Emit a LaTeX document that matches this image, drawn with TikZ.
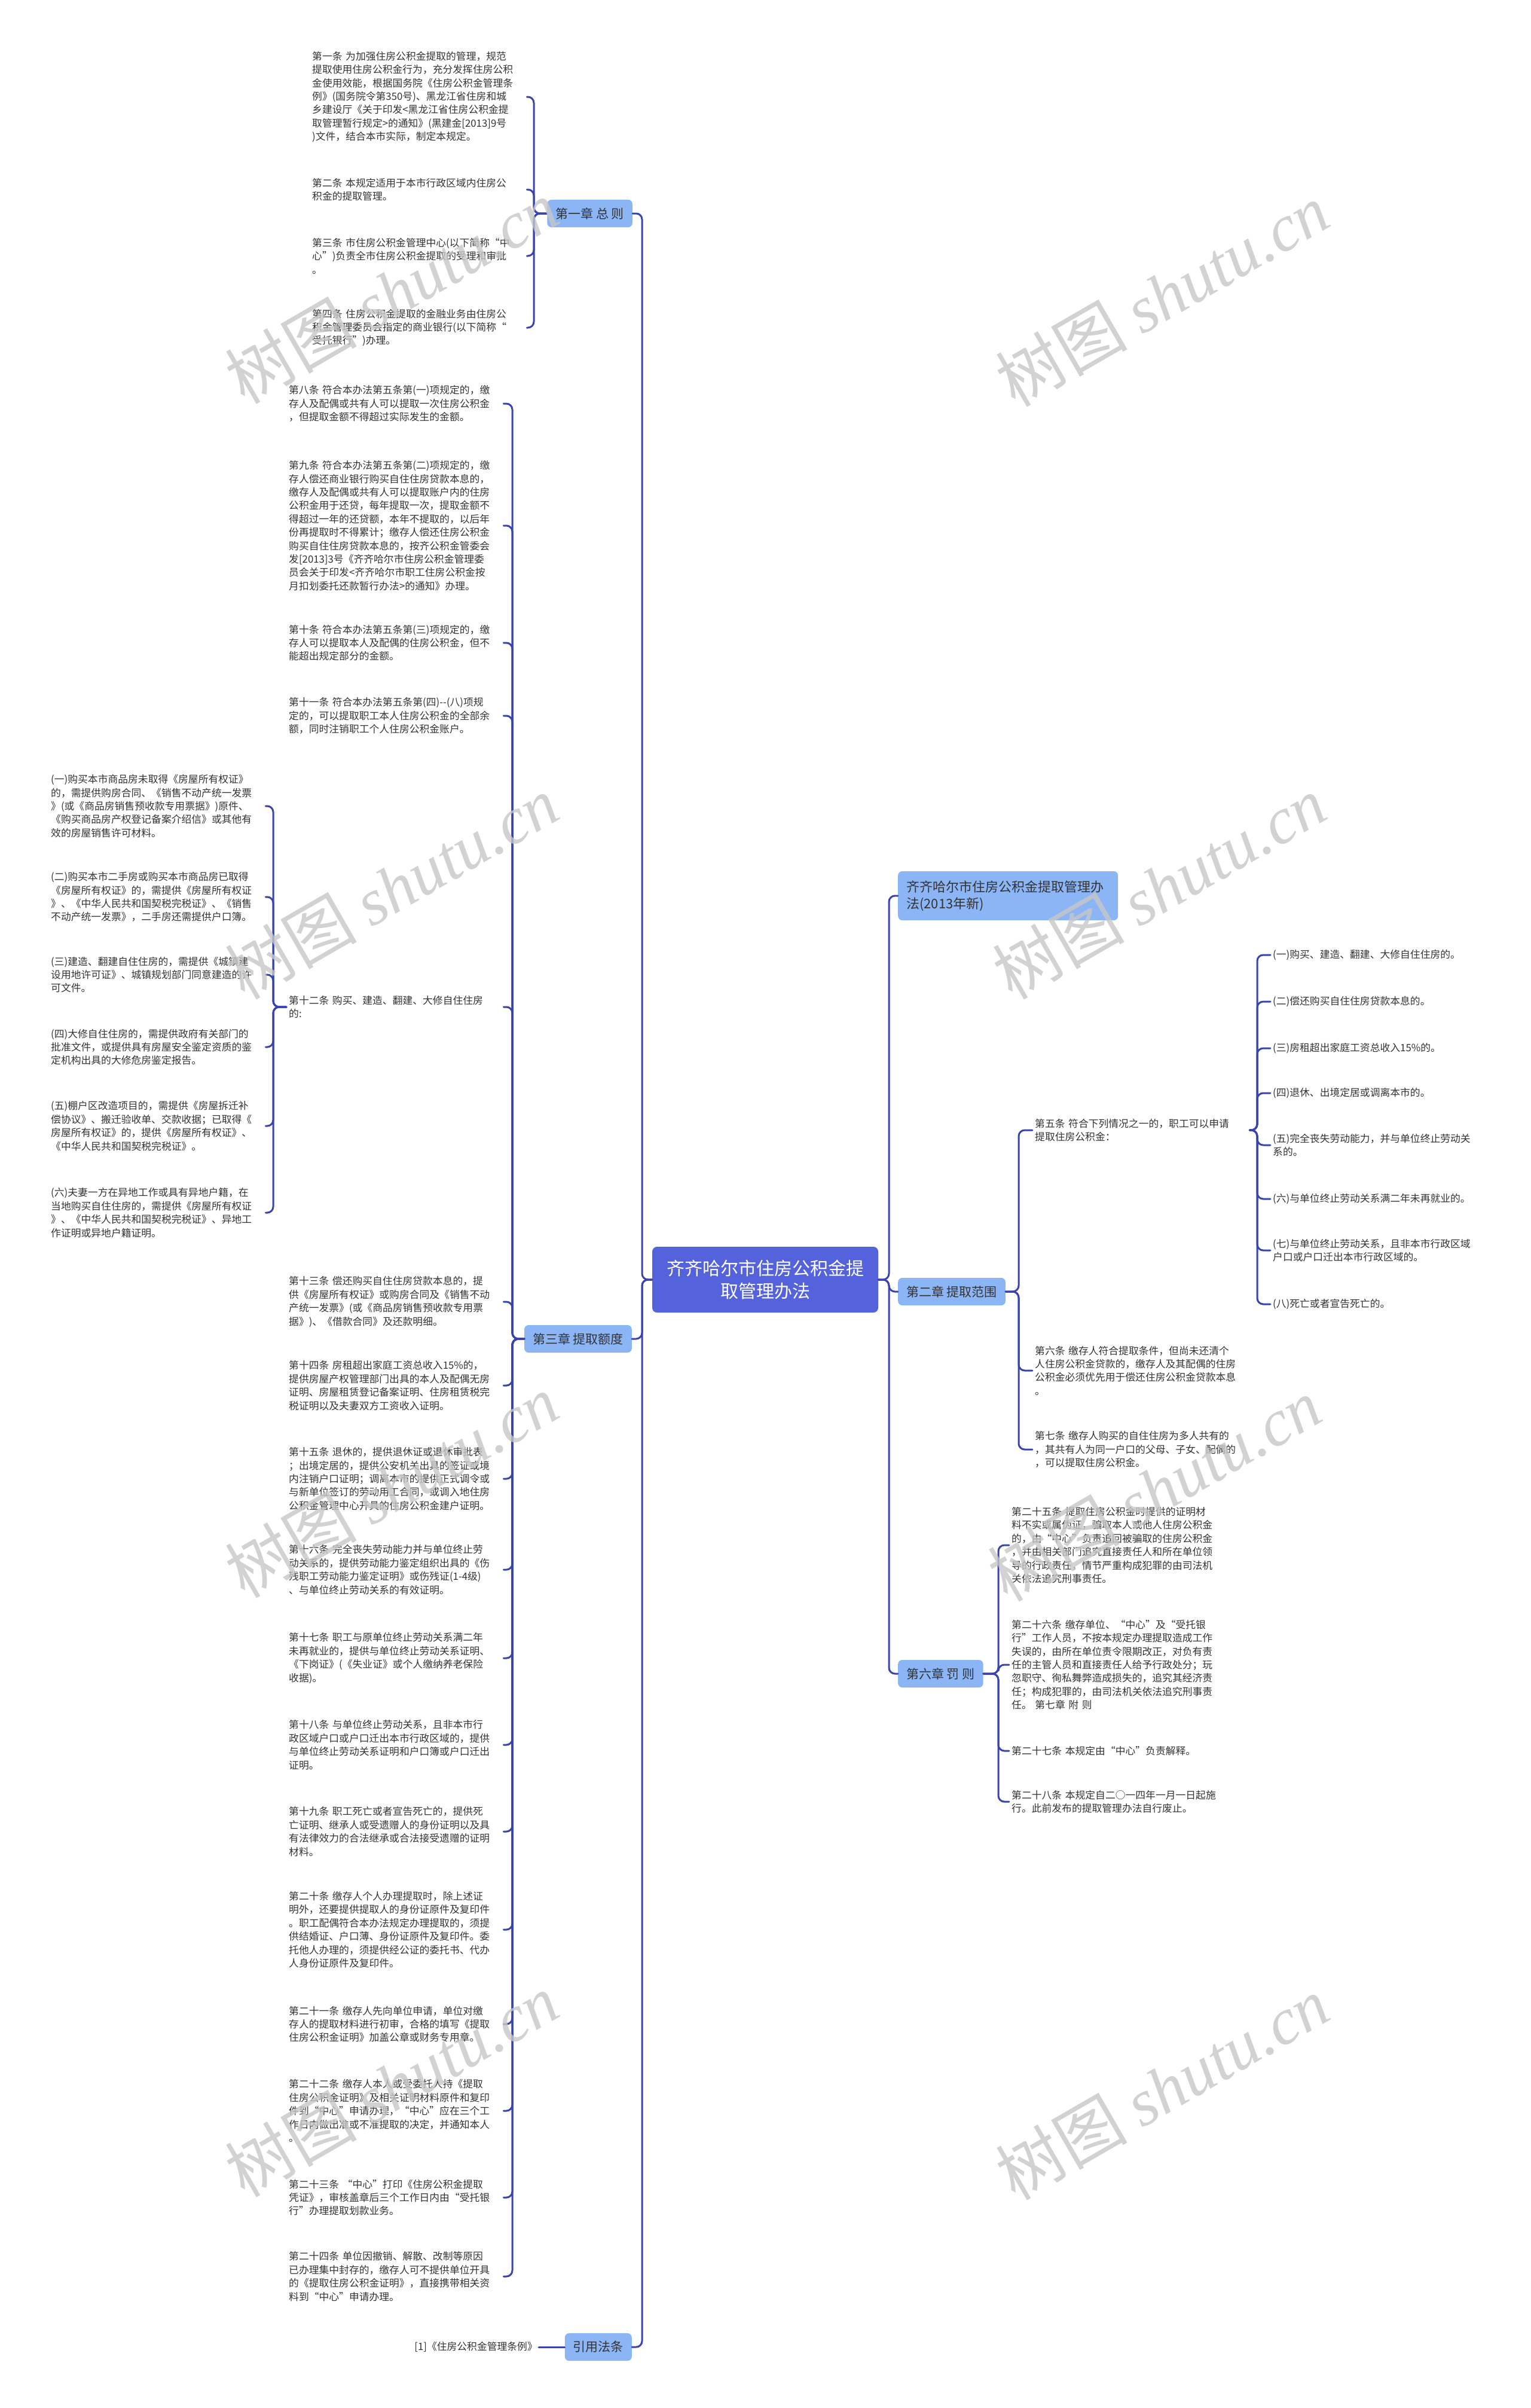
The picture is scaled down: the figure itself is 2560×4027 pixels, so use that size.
\documentclass[tikz,border=0pt]{standalone}
\usepackage{fontspec}
\setmainfont{Noto Sans CJK SC}
\newfontfamily\wmserif{Liberation Serif}

\definecolor{rootblue}{RGB}{84,99,219}
\definecolor{chapblue}{RGB}{140,181,246}
\definecolor{linkblue}{RGB}{58,68,176}
\definecolor{leafgray}{RGB}{51,51,51}

\begin{document}
\begin{tikzpicture}[x=1pt, y=-1pt, line cap=round, line join=round,
  leaf/.style={text=leafgray, font=\fontsize{16.8}{22.4}\selectfont, align=left,
    text width=355pt, inner xsep=4pt, inner ysep=2pt},
  chap/.style={fill=chapblue, text=leafgray, rounded corners=7pt,
    font=\fontsize{21}{25}\selectfont, inner xsep=14pt, minimum height=46pt},
  link/.style={draw=linkblue, line width=3pt, rounded corners=10pt},
  wm/.style={rotate=30, text=black!22, opacity=0.8, font=\fontsize{110}{110}\selectfont}]

% ----------------------------
% CANVAS
% ----------------------------
\fill[white] (0,0) rectangle (2560,4027);
\useasboundingbox (0,0) rectangle (2560,4027);

% ----------------------------
% ROOT AND CHAPTERS
% ----------------------------
\node[fill=rootblue, text=white, rounded corners=8pt, font=\fontsize{30}{38}\selectfont,
  align=center, minimum width=378pt, minimum height=110pt] (root) at (1280,2140)
  {齐齐哈尔市住房公积金提\\取管理办法};

\node[chap, anchor=east] (ch1) at (1058,357) {第一章 总 则};
\node[chap, anchor=east] (ch3) at (1057,2239) {第三章 提取额度};
\node[chap, anchor=east] (ref) at (1057,3925) {引用法条};

\node[chap, anchor=west, align=left, text width=340pt, minimum height=82pt,
  font=\fontsize{22}{28}\selectfont] (law) at (1502,1498)
  {齐齐哈尔市住房公积金提取管理办\\法(2013年新)};
\node[chap, anchor=west] (ch2) at (1502,2160) {第二章 提取范围};
\node[chap, anchor=west] (ch6) at (1502,2799) {第六章 罚 则};

% ----------------------------
% CHAPTER 1
% ----------------------------
\node[leaf, anchor=west] (a1) at (518,162) {第一条~为加强住房公积金提取的管理，规范\\提取使用住房公积金行为，充分发挥住房公积\\金使用效能，根据国务院《住房公积金管理条\\例》(国务院令第350号)、黑龙江省住房和城\\乡建设厅《关于印发<黑龙江省住房公积金提\\取管理暂行规定>的通知》(黑建金[2013]9号\\)文件，结合本市实际，制定本规定。};
\node[leaf, anchor=west] (a2) at (518,317) {第二条~本规定适用于本市行政区域内住房公\\积金的提取管理。};
\node[leaf, anchor=west] (a3) at (518,428) {第三条~市住房公积金管理中心(以下简称“中\\心”)负责全市住房公积金提取的受理和审批\\。};
\node[leaf, anchor=west] (a4) at (518,548) {第四条~住房公积金提取的金融业务由住房公\\积金管理委员会指定的商业银行(以下简称“\\受托银行”)办理。};

% ----------------------------
% CHAPTER 3
% ----------------------------
\node[leaf, anchor=west] (b8) at (479,675) {第八条~符合本办法第五条第(一)项规定的，缴\\存人及配偶或共有人可以提取一次住房公积金\\，但提取金额不得超过实际发生的金额。};
\node[leaf, anchor=west] (b9) at (479,879) {第九条~符合本办法第五条第(二)项规定的，缴\\存人偿还商业银行购买自住住房贷款本息的，\\缴存人及配偶或共有人可以提取账户内的住房\\公积金用于还贷，每年提取一次，提取金额不\\得超过一年的还贷额，本年不提取的，以后年\\份再提取时不得累计；缴存人偿还住房公积金\\购买自住住房贷款本息的，按齐公积金管委会\\发[2013]3号《齐齐哈尔市住房公积金管理委\\员会关于印发<齐齐哈尔市职工住房公积金按\\月扣划委托还款暂行办法>的通知》办理。};
\node[leaf, anchor=west] (b10) at (479,1075) {第十条~符合本办法第五条第(三)项规定的，缴\\存人可以提取本人及配偶的住房公积金，但不\\能超出规定部分的金额。};
\node[leaf, anchor=west] (b11) at (479,1197) {第十一条~符合本办法第五条第(四){-}{-}(八)项规\\定的，可以提取职工本人住房公积金的全部余\\额，同时注销职工个人住房公积金账户。};
\node[leaf, anchor=west] (b12) at (479,1684) {第十二条~购买、建造、翻建、大修自住住房\\的:};
\node[leaf, anchor=west] (b13) at (479,2177) {第十三条~偿还购买自住住房贷款本息的，提\\供《房屋所有权证》或购房合同及《销售不动\\产统一发票》(或《商品房销售预收款专用票\\据》)、《借款合同》及还款明细。};
\node[leaf, anchor=west] (b14) at (479,2317) {第十四条~房租超出家庭工资总收入15\%的，\\提供房屋产权管理部门出具的本人及配偶无房\\证明、房屋租赁登记备案证明、住房租赁税完\\税证明以及夫妻双方工资收入证明。};
\node[leaf, anchor=west] (b15) at (479,2473) {第十五条~退休的，提供退休证或退休审批表\\；出境定居的，提供公安机关出具的签证或境\\内注销户口证明；调离本市的提供正式调令或\\与新单位签订的劳动用工合同，或调入地住房\\公积金管理中心开具的住房公积金建户证明。};
\node[leaf, anchor=west] (b16) at (479,2625) {第十六条~完全丧失劳动能力并与单位终止劳\\动关系的，提供劳动能力鉴定组织出具的《伤\\残职工劳动能力鉴定证明》或伤残证(1-4级)\\、与单位终止劳动关系的有效证明。};
\node[leaf, anchor=west] (b17) at (479,2773) {第十七条~职工与原单位终止劳动关系满二年\\未再就业的，提供与单位终止劳动关系证明、\\《下岗证》(《失业证》或个人缴纳养老保险\\收据)。};
\node[leaf, anchor=west] (b18) at (479,2918) {第十八条~与单位终止劳动关系，且非本市行\\政区域户口或户口迁出本市行政区域的，提供\\与单位终止劳动关系证明和户口簿或户口迁出\\证明。};
\node[leaf, anchor=west] (b19) at (479,3063) {第十九条~职工死亡或者宣告死亡的，提供死\\亡证明、继承人或受遗赠人的身份证明以及具\\有法律效力的合法继承或合法接受遗赠的证明\\材料。};
\node[leaf, anchor=west] (b20) at (479,3227) {第二十条~缴存人个人办理提取时，除上述证\\明外，还要提供提取人的身份证原件及复印件\\。职工配偶符合本办法规定办理提取的，须提\\供结婚证、户口薄、身份证原件及复印件。委\\托他人办理的，须提供经公证的委托书、代办\\人身份证原件及复印件。};
\node[leaf, anchor=west] (b21) at (479,3385) {第二十一条~缴存人先向单位申请，单位对缴\\存人的提取材料进行初审，合格的填写《提取\\住房公积金证明》加盖公章或财务专用章。};
\node[leaf, anchor=west] (b22) at (479,3530) {第二十二条~缴存人本人或受委托人持《提取\\住房公积金证明》及相关证明材料原件和复印\\件到“中心”申请办理，“中心”应在三个工\\作日内做出准或不准提取的决定，并通知本人\\。};
\node[leaf, anchor=west] (b23) at (479,3675) {第二十三条~“中心”打印《住房公积金提取\\凭证》，审核盖章后三个工作日内由“受托银\\行”办理提取划款业务。};
\node[leaf, anchor=west] (b24) at (479,3807) {第二十四条~单位因撤销、解散、改制等原因\\已办理集中封存的，缴存人可不提供单位开具\\的《提取住房公积金证明》，直接携带相关资\\料到“中心”申请办理。};

% items of article 12
\node[leaf, anchor=west] (c1) at (81,1348) {(一)购买本市商品房未取得《房屋所有权证》\\的，需提供购房合同、《销售不动产统一发票\\》(或《商品房销售预收款专用票据》)原件、\\《购买商品房产权登记备案介绍信》或其他有\\效的房屋销售许可材料。};
\node[leaf, anchor=west] (c2) at (81,1500) {(二)购买本市二手房或购买本市商品房已取得\\《房屋所有权证》的，需提供《房屋所有权证\\》、《中华人民共和国契税完税证》、《销售\\不动产统一发票》，二手房还需提供户口簿。};
\node[leaf, anchor=west] (c3) at (81,1630) {(三)建造、翻建自住住房的，需提供《城镇建\\设用地许可证》、城镇规划部门同意建造的许\\可文件。};
\node[leaf, anchor=west] (c4) at (81,1751) {(四)大修自住住房的，需提供政府有关部门的\\批准文件，或提供具有房屋安全鉴定资质的鉴\\定机构出具的大修危房鉴定报告。};
\node[leaf, anchor=west] (c5) at (81,1883) {(五)棚户区改造项目的，需提供《房屋拆迁补\\偿协议》、搬迁验收单、交款收据；已取得《\\房屋所有权证》的，提供《房屋所有权证》、\\《中华人民共和国契税完税证》。};
\node[leaf, anchor=west] (c6) at (81,2028) {(六)夫妻一方在异地工作或具有异地户籍，在\\当地购买自住住房的，需提供《房屋所有权证\\》、《中华人民共和国契税完税证》、异地工\\作证明或异地户籍证明。};

% ----------------------------
% CITED LAW
% ----------------------------
\node[text=leafgray, font=\fontsize{16.8}{22.4}\selectfont, inner sep=2pt, anchor=east]
  (cite) at (901,3925) {[1]《住房公积金管理条例》};

% ----------------------------
% CHAPTER 2
% ----------------------------
\node[leaf, anchor=west] (d5) at (1727,1890) {第五条~符合下列情况之一的，职工可以申请\\提取住房公积金：};
\node[leaf, anchor=west] (d6) at (1727,2292) {第六条~缴存人符合提取条件，但尚未还清个\\人住房公积金贷款的，缴存人及其配偶的住房\\公积金必须优先用于偿还住房公积金贷款本息\\。};
\node[leaf, anchor=west] (d7) at (1727,2424) {第七条~缴存人购买的自住住房为多人共有的\\，其共有人为同一户口的父母、子女、配偶的\\，可以提取住房公积金。};

\node[leaf, anchor=west] (e1) at (2125,1597) {(一)购买、建造、翻建、大修自住住房的。};
\node[leaf, anchor=west] (e2) at (2125,1675) {(二)偿还购买自住住房贷款本息的。};
\node[leaf, anchor=west] (e3) at (2125,1753) {(三)房租超出家庭工资总收入15\%的。};
\node[leaf, anchor=west] (e4) at (2125,1828) {(四)退休、出境定居或调离本市的。};
\node[leaf, anchor=west] (e5) at (2125,1915) {(五)完全丧失劳动能力，并与单位终止劳动关\\系的。};
\node[leaf, anchor=west] (e6) at (2125,2005) {(六)与单位终止劳动关系满二年未再就业的。};
\node[leaf, anchor=west] (e7) at (2125,2091) {(七)与单位终止劳动关系，且非本市行政区域\\户口或户口迁出本市行政区域的。};
\node[leaf, anchor=west] (e8) at (2125,2181) {(八)死亡或者宣告死亡的。};

% ----------------------------
% CHAPTER 6
% ----------------------------
\node[leaf, anchor=west] (f25) at (1688,2584) {第二十五条~提取住房公积金时提供的证明材\\料不实或属伪证，骗取本人或他人住房公积金\\的，由“中心”负责追回被骗取的住房公积金\\，并由相关部门追究直接责任人和所在单位领\\导的行政责任，情节严重构成犯罪的由司法机\\关依法追究刑事责任。};
\node[leaf, anchor=west] (f26) at (1688,2784) {第二十六条~缴存单位、“中心”及“受托银\\行”工作人员，不按本规定办理提取造成工作\\失误的，由所在单位责令限期改正，对负有责\\任的主管人员和直接责任人给予行政处分；玩\\忽职守、徇私舞弊造成损失的，追究其经济责\\任；构成犯罪的，由司法机关依法追究刑事责\\任。~第七章~附~则};
\node[leaf, anchor=west] (f27) at (1688,2928) {第二十七条~本规定由“中心”负责解释。};
\node[leaf, anchor=west] (f28) at (1688,3013) {第二十八条~本规定自二○一四年一月一日起施\\行。此前发布的提取管理办法自行废止。};

% ----------------------------
% BRACKET POINTS
% ----------------------------
\coordinate (kL) at (1074,2140);
\coordinate (kR) at (1487,2140);
\coordinate (k1) at (893,357);
\coordinate (k3) at (857,2239);
\coordinate (k12) at (457,1684);
\coordinate (k2) at (1704,2160);
\coordinate (k5) at (2103,1890);
\coordinate (k6) at (1670,2799);

% ----------------------------
% CONNECTORS
% ----------------------------
\foreach \n in {ch1,ch3,ref}
  \draw[link] (root.west) -- (kL) |- (\n.east);
\foreach \n in {law,ch2,ch6}
  \draw[link] (root.east) -- (kR) |- (\n.west);

\foreach \n in {a1,a2,a3,a4}
  \draw[link] (ch1.west) -- (k1) |- (\n.east);
\foreach \n in {b8,b9,b10,b11,b12,b13,b14,b15,b16,b17,b18,b19,b20,b21,b22,b23,b24}
  \draw[link] (ch3.west) -- (k3) |- (\n.east);
\foreach \n in {c1,c2,c3,c4,c5,c6}
  \draw[link] (b12.west) -- (k12) |- (\n.east);
\draw[link] (ref.west) -- (cite.east);

\foreach \n in {d5,d6,d7}
  \draw[link] (ch2.east) -- (k2) |- (\n.west);
\foreach \n in {e1,e2,e3,e4,e5,e6,e7,e8}
  \draw[link] (d5.east) -- (k5) |- (\n.west);
\foreach \n in {f25,f26,f27,f28}
  \draw[link] (ch6.east) -- (k6) |- (\n.west);

% ----------------------------
% WATERMARKS
% ----------------------------
\foreach \wx/\wy [count=\i] in {655/488,1944/493,655/1484,1939/1484,655/2485,1931/2491,655/3487,1944/3492}
  \node[wm] (wm\i) at (\wx,\wy) {树图 {\wmserif\itshape shutu.cn}};

\end{tikzpicture}
\end{document}
